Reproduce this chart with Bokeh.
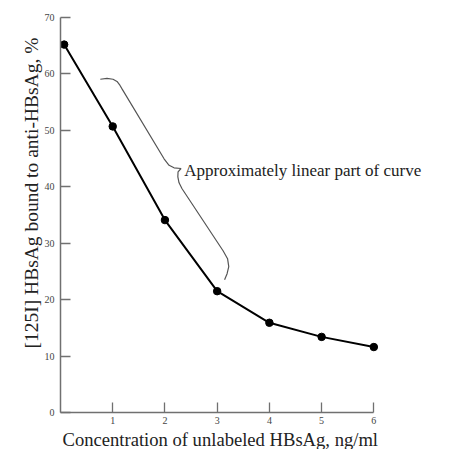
from bokeh.plotting import figure
from bokeh.models import Range1d, FixedTicker, Label, Title
from bokeh.embed import file_html
from bokeh.resources import INLINE

# data
conc = [0.07, 1, 2, 3, 4, 5, 6]
bound_pct = [65.2, 50.7, 34.1, 21.5, 15.9, 13.4, 11.6]
x_ticks = [1, 2, 3, 4, 5, 6]
y_ticks = [0, 10, 20, 30, 40, 50, 60, 70]

# curly-brace annotation path (data units)
brace_x = [0.762, 0.891, 1.006, 1.082, 1.140, 1.178, 1.983, 2.079, 2.174, 2.308,
           2.251, 2.247, 2.270, 2.328, 3.113, 3.199, 3.222, 3.190, 3.142]
brace_y = [59.06, 59.20, 59.06, 58.67, 57.96, 57.35, 44.96, 43.81, 43.36, 43.24,
           42.65, 41.77, 40.71, 39.65, 28.67, 27.26, 25.84, 24.60, 23.54]

note_text = "Approximately linear part of curve"
x_label = "Concentration of unlabeled HBsAg, ng/ml"
y_label = "[125I] HBsAg bound to anti-HBsAg, %"

FONT = "Liberation Serif"

p = figure(width=451, height=449, output_backend="svg", toolbar_location=None,
           x_range=Range1d(0, 7.2), y_range=Range1d(0, 70),
           min_border_left=60, min_border_right=15, min_border_top=17, min_border_bottom=37)
p.outline_line_color = None
p.xgrid.visible = False
p.ygrid.visible = False
p.background_fill_color = "white"
p.border_fill_color = "white"

for ax in (p.xaxis[0], p.yaxis[0]):
    ax.axis_line_color = "#707070"
    ax.axis_line_width = 1.5
    ax.major_tick_line_color = "#707070"
    ax.major_tick_line_width = 1.3
    ax.major_tick_in = 10
    ax.major_tick_out = 0
    ax.minor_tick_line_color = None
    ax.major_label_text_font = FONT
    ax.major_label_text_font_size = "10px"
    ax.major_label_text_color = "#444444"

xa = p.xaxis[0]
xa.ticker = FixedTicker(ticks=x_ticks)
xa.bounds = (0, 6)
xa.major_label_standoff = 4

ya = p.yaxis[0]
ya.ticker = FixedTicker(ticks=y_ticks)
ya.major_label_standoff = 6

p.add_layout(Title(text=x_label, align="left", offset=2, standoff=0,
                   text_font=FONT, text_font_size="18.6px", text_font_style="normal",
                   text_color="#222222"), "below")
p.add_layout(Title(text=y_label, align="left", offset=64, standoff=0,
                   text_font=FONT, text_font_size="19.5px", text_font_style="normal",
                   text_color="#222222"), "left")

p.line(brace_x, brace_y, line_color="#555555", line_width=1.2)
p.line(conc, bound_pct, line_color="black", line_width=2)
p.scatter(conc, bound_pct, size=7.5, fill_color="black", line_color="black")

p.add_layout(Label(x=2.37, y=42.9, text=note_text, text_font=FONT,
                   text_font_size="17px", text_color="#222222",
                   text_baseline="alphabetic", text_align="left"))

open("out.html", "w").write(file_html(p, INLINE))
